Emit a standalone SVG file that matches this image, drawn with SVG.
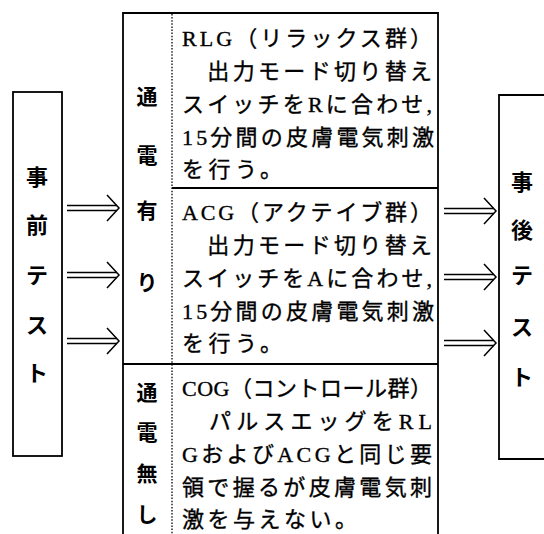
<svg xmlns="http://www.w3.org/2000/svg" xmlns:xlink="http://www.w3.org/1999/xlink" width="544" height="534" viewBox="0 0 544 534">
<style>
.bg{fill:#ffffff}
.ln{fill:none;stroke:#000;stroke-width:1.8}
.dot{fill:none;stroke:#000;stroke-width:1.3;stroke-dasharray:1.5 1.6}
.sh{fill:none;stroke:#000;stroke-width:1.5}
.tx{font-family:"Liberation Serif","Noto Sans CJK JP",serif;font-size:22px;fill:#000;stroke:#000;stroke-width:0.35}
.vk{font-family:"Noto Sans CJK JP",sans-serif;font-size:21px;font-weight:bold;fill:#000;text-anchor:middle}
.vb{font-family:"Noto Sans CJK JP",sans-serif;font-size:22px;font-weight:bold;fill:#000;text-anchor:middle}
</style>
<defs>
<g id="dblarrow">
<path class="sh" d="M0,-2.5 H50 M0,2.5 H50"/>
<path class="sh" d="M40,-13 L52,0 L40,13"/>
</g>
</defs>
<rect class="bg" x="0" y="0" width="544" height="534"/>

<g id="pre-test">
<rect class="ln" x="13" y="92" width="49" height="364"/>
<text class="vb" x="37" y="185">事</text>
<text class="vb" x="37" y="233">前</text>
<text class="vb" x="37" y="283">テ</text>
<text class="vb" x="37" y="333">ス</text>
<text class="vb" x="37" y="381">ト</text>
</g>

<g id="groups-frame">
<path class="ln" d="M123,534 V13 H438 V534"/>
<path class="dot" d="M172,14 V534"/>
<path class="ln" d="M172,188 H438"/>
<path class="ln" d="M123,364 H438"/>
</g>

<g id="current-on">
<text class="vk" x="147" y="104">通</text>
<text class="vk" x="147" y="163">電</text>
<text class="vk" x="147" y="218">有</text>
<text class="vk" x="147" y="290">り</text>
</g>

<g id="rlg">
<text class="tx" x="182" y="46" textLength="250" lengthAdjust="spacing">RLG（リラックス群）</text>
<text class="tx" x="182" y="79" textLength="250" lengthAdjust="spacing">　出力モード切り替え</text>
<text class="tx" x="182" y="112" textLength="250" lengthAdjust="spacing">スイッチをRに合わせ,</text>
<text class="tx" x="182" y="145" textLength="252" lengthAdjust="spacing">15分間の皮膚電気刺激</text>
<text class="tx" x="182" y="177" textLength="100" lengthAdjust="spacing">を行う。</text>
</g>

<g id="acg">
<text class="tx" x="182" y="220" textLength="250" lengthAdjust="spacing">ACG（アクテイブ群）</text>
<text class="tx" x="182" y="253" textLength="250" lengthAdjust="spacing">　出力モード切り替え</text>
<text class="tx" x="182" y="286" textLength="250" lengthAdjust="spacing">スイッチをAに合わせ,</text>
<text class="tx" x="182" y="319" textLength="252" lengthAdjust="spacing">15分間の皮膚電気刺激</text>
<text class="tx" x="182" y="351" textLength="100" lengthAdjust="spacing">を行う。</text>
</g>

<g id="current-off">
<text class="vk" x="147" y="400">通</text>
<text class="vk" x="147" y="440">電</text>
<text class="vk" x="147" y="481">無</text>
<text class="vk" x="147" y="522">し</text>
</g>

<g id="cog">
<text class="tx" x="182" y="396" textLength="250" lengthAdjust="spacing">COG（コントロール群）</text>
<text class="tx" x="182" y="429" textLength="250" lengthAdjust="spacing">　パルスエッグをRL</text>
<text class="tx" x="182" y="462" textLength="250" lengthAdjust="spacing">GおよびACGと同じ要</text>
<text class="tx" x="182" y="495" textLength="250" lengthAdjust="spacing">領で握るが皮膚電気刺</text>
<text class="tx" x="182" y="527" textLength="175" lengthAdjust="spacing">激を与えない。</text>
</g>

<g id="post-test">
<path class="ln" d="M546,95 H499 V459 H546"/>
<text class="vb" x="522" y="190">事</text>
<text class="vb" x="522" y="238">後</text>
<text class="vb" x="522" y="283">テ</text>
<text class="vb" x="522" y="335">ス</text>
<text class="vb" x="522" y="385">ト</text>
</g>

<g id="connectors">
<use xlink:href="#dblarrow" x="67" y="208"/>
<use xlink:href="#dblarrow" x="67" y="275"/>
<use xlink:href="#dblarrow" x="67" y="341"/>
<use xlink:href="#dblarrow" x="444" y="211"/>
<use xlink:href="#dblarrow" x="444" y="277"/>
<use xlink:href="#dblarrow" x="444" y="343"/>
</g>
</svg>
